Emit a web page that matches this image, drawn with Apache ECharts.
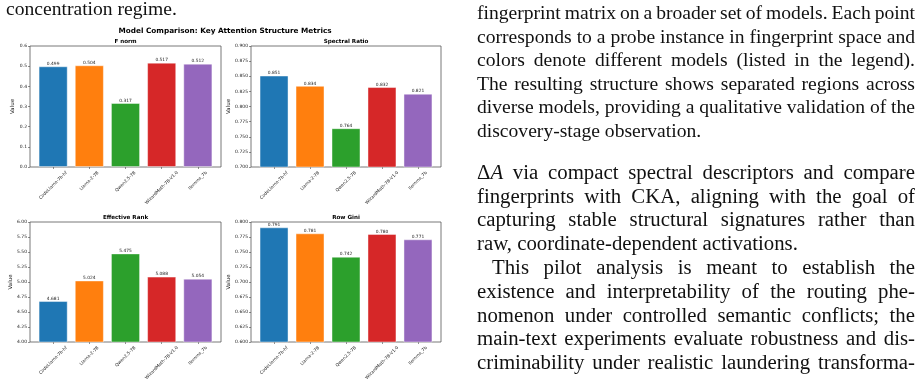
<!DOCTYPE html>
<html>
<head>
<meta charset="utf-8">
<script src="https://cdn.jsdelivr.net/npm/echarts@6/dist/echarts.min.js"></script>
<style>
html, body { margin: 0; padding: 0; background: #fff; }
#wrap { position: relative; width: 923px; height: 392px; overflow: hidden; }
#chart { position: absolute; left: 0; top: 0; width: 923px; height: 392px; }
.ln { position: absolute; font-family: "Liberation Serif", "Times New Roman", serif; font-size: 19.6px; line-height: 23.6px; white-space: nowrap; color: #111; }
.j { width: 438px; text-align: justify; text-align-last: justify; white-space: normal; word-spacing: -3px; }
.b { font-size: 20.8px; }
.b.j { word-spacing: -1.5px; }
</style>
</head>
<body>
<div id="wrap">
  <div id="chart"></div>
  <div class="ln" style="left:6px;top:-3px">concentration regime.</div>
  <div class="ln j" style="left:477px;top:1px">fingerprint matrix on a broader set of models. Each point</div>
  <div class="ln j" style="left:477px;top:24.6px">corresponds to a probe instance in fingerprint space and</div>
  <div class="ln j" style="left:477px;top:48.2px">colors denote different models (listed in the legend).</div>
  <div class="ln j" style="left:477px;top:71.8px">The resulting structure shows separated regions across</div>
  <div class="ln j" style="left:477px;top:95.4px">diverse models, providing a qualitative validation of the</div>
  <div class="ln" style="left:477px;top:119px">discovery-stage observation.</div>
  <div class="ln b j" style="left:477px;top:160px">&Delta;<i>A</i> via compact spectral descriptors and compare</div>
  <div class="ln b j" style="left:477px;top:183.6px">fingerprints with CKA, aligning with the goal of</div>
  <div class="ln b j" style="left:477px;top:207.2px">capturing stable structural signatures rather than</div>
  <div class="ln b" style="left:477px;top:230.8px">raw, coordinate-dependent activations.</div>
  <div class="ln b j" style="left:492px;top:255.4px;width:423px">This pilot analysis is meant to establish the</div>
  <div class="ln b j" style="left:477px;top:279px">existence and interpretability of the routing phe-</div>
  <div class="ln b j" style="left:477px;top:302.6px">nomenon under controlled semantic conflicts; the</div>
  <div class="ln b j" style="left:477px;top:326.2px">main-text experiments evaluate robustness and dis-</div>
  <div class="ln b j" style="left:477px;top:349.8px">criminability under realistic laundering transforma-</div>
</div>
<script>
// data
const models = ['CodeLlama-7b-hf', 'Llama-2-7B', 'Qwen2.5-7B', 'WizardMath-7B-V1.0', 'llemma_7b'];
const fNorm = [0.499, 0.504, 0.317, 0.517, 0.512];
const spectralRatio = [0.851, 0.834, 0.764, 0.832, 0.821];
const effectiveRank = [4.681, 5.024, 5.475, 5.088, 5.054];
const rowGini = [0.791, 0.781, 0.742, 0.780, 0.771];
const panelTitles = ['F norm', 'Spectral Ratio', 'Effective Rank', 'Row Gini'];
const yMins = [0, 0.7, 4, 0.6];
const yMaxs = [0.6, 0.9, 6, 0.8];
const ySteps = [0.1, 0.025, 0.25, 0.025];
const yDecimals = [1, 3, 2, 3];

const panels = [fNorm, spectralRatio, effectiveRank, rowGini];
const colors = ['#1f77b4', '#ff7f0e', '#2ca02c', '#d62728', '#9467bd'];
const grids = [
  { left: 30, top: 46, width: 191, height: 121 },
  { left: 251, top: 46, width: 190, height: 121 },
  { left: 30, top: 222, width: 191, height: 120 },
  { left: 251, top: 222, width: 190, height: 120 }
];
const nameGaps = [14, 19, 16, 19];
const xMin = -0.64, xMax = 4.64;
const labelFont = 4.4;

// measure rotated label sizes so each label hangs centred under its tick (matplotlib style)
const ctx = document.createElement('canvas').getContext('2d');
ctx.font = labelFont + 'px "DejaVu Sans"';
const labelMargins = models.map(m => {
  const w = ctx.measureText(m).width;
  return 3.5 + (w + labelFont) * Math.SQRT1_2 / 2;
});

const myChart = echarts.init(document.getElementById('chart'), null, { renderer: 'canvas' });

const title = [{
  text: 'Model Comparison: Key Attention Structure Metrics',
  left: 225, top: 27.5, textAlign: 'center', padding: 0,
  textStyle: { fontFamily: 'DejaVu Sans', fontSize: 7.3, fontWeight: 'bold', color: '#000' }
}];
const xAxis = [], yAxis = [], series = [];

grids.forEach((g, gi) => {
  title.push({
    text: panelTitles[gi],
    left: g.left + g.width / 2, top: g.top - 7.2, textAlign: 'center', padding: 0,
    textStyle: { fontFamily: 'DejaVu Sans', fontSize: 5.6, fontWeight: 'bold', color: '#000' }
  });
  const mainX = xAxis.length;
  xAxis.push({
    type: 'value', gridIndex: gi, min: xMin, max: xMax, position: 'bottom',
    axisLine: { show: false, onZero: false },
    axisTick: { show: true, length: 2, customValues: [0, 1, 2, 3, 4], lineStyle: { color: '#444', width: 0.6 } },
    axisLabel: { show: false },
    splitLine: { show: false }
  });
  models.forEach((m, i) => {
    xAxis.push({
      type: 'value', gridIndex: gi, min: xMin, max: xMax, position: 'bottom',
      axisLine: { show: false, onZero: false },
      axisTick: { show: false },
      splitLine: { show: false },
      axisLabel: {
        customValues: [i],
        formatter: v => models[Math.round(v)],
        rotate: 45, align: 'center', verticalAlign: 'middle',
        margin: labelMargins[i],
        fontFamily: 'DejaVu Sans', fontSize: labelFont, color: '#222'
      }
    });
  });
  yAxis.push({
    type: 'value', gridIndex: gi, min: yMins[gi], max: yMaxs[gi], interval: ySteps[gi],
    position: 'left',
    name: 'Value', nameLocation: 'middle', nameGap: nameGaps[gi],
    nameTextStyle: { fontFamily: 'DejaVu Sans', fontSize: 5.5, color: '#222' },
    axisLine: { show: false, onZero: false },
    axisTick: { show: true, length: 2, lineStyle: { color: '#444', width: 0.6 } },
    axisLabel: {
      margin: 3, fontFamily: 'DejaVu Sans', fontSize: 4.5, color: '#222',
      formatter: v => v.toFixed(yDecimals[gi])
    },
    splitLine: { show: false }
  });
  series.push({
    type: 'bar', xAxisIndex: mainX, yAxisIndex: gi,
    barWidth: 0.8 * g.width / (xMax - xMin),
    data: panels[gi].map((v, i) => ({
      value: [i, v],
      itemStyle: { color: colors[i], borderColor: 'rgba(255,255,255,0.55)', borderWidth: 0.8 }
    })),
    label: {
      show: true, position: 'top', distance: 0.5,
      fontFamily: 'DejaVu Sans', fontSize: 4.4, color: '#222',
      formatter: p => p.value[1].toFixed(3)
    }
  });
});

myChart.setOption({
  animation: false,
  backgroundColor: 'transparent',
  title: title,
  grid: grids.map(g => Object.assign({
    show: true, borderColor: '#555', borderWidth: 0.8, backgroundColor: 'transparent',
    outerBoundsMode: 'none'
  }, g)),
  xAxis: xAxis,
  yAxis: yAxis,
  series: series
});
</script>
</body>
</html>
